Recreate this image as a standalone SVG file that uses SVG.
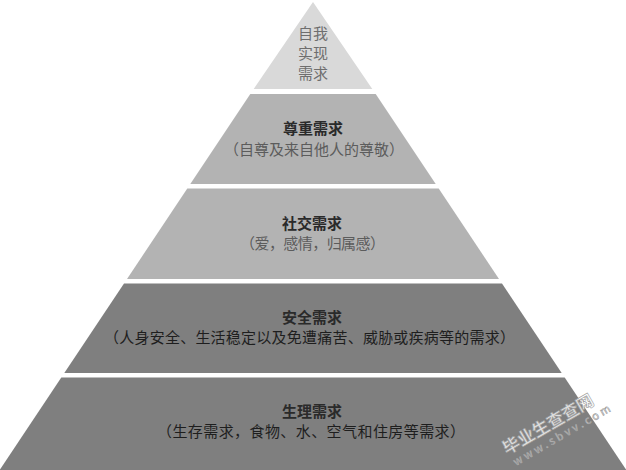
<svg xmlns="http://www.w3.org/2000/svg" width="626" height="470" viewBox="0 0 626 470">
<style>
  .t{font-family:"Noto Sans CJK SC","Liberation Sans",sans-serif;text-anchor:middle}
  .top{font-size:15px;fill:#6e6e6e}
  .title{font-size:15px;font-weight:bold;fill:#2a2a2a}
  .subL{font-size:15px;fill:#5c5c5c}
  .subD{font-size:15px;fill:#1e1e1e}
  .wm{font-family:"Noto Sans CJK SC","Liberation Serif",serif;fill:#ffffff;fill-opacity:0.75;stroke:#9a9a9a;stroke-width:0.6}
</style>
<rect width="626" height="470" fill="#ffffff"/>
<g id="self-actualization">
  <polygon points="313,2 372.3,89 253.7,89" fill="#d9d9d9"/>
  <text class="t top" x="313" y="38.5">自我</text>
  <text class="t top" x="313" y="58.5">实现</text>
  <text class="t top" x="313" y="78.5">需求</text>
</g>
<g id="esteem">
  <polygon points="250.3,94 375.7,94 435.7,184 190.3,184" fill="#b3b3b3"/>
  <text class="t title" x="313" y="133.5">尊重需求</text>
  <text class="t subL" x="314" y="154.5" textLength="180" lengthAdjust="spacing">（自尊及来自他人的尊敬）</text>
</g>
<g id="social">
  <polygon points="187.3,188.5 438.7,188.5 499,279 127,279" fill="#b3b3b3"/>
  <text class="t title" x="312" y="229">社交需求</text>
  <text class="t subL" x="312.5" y="248.5" textLength="145" lengthAdjust="spacing">（爱，感情，归属感）</text>
</g>
<g id="safety">
  <polygon points="124,283.5 502,283.5 561.7,373 64.3,373" fill="#7f7f7f"/>
  <text class="t title" x="312" y="323">安全需求</text>
  <text class="t subD" x="309.5" y="342.5" textLength="411" lengthAdjust="spacing">（人身安全、生活稳定以及免遭痛苦、威胁或疾病等的需求）</text>
</g>
<g id="physiological">
  <polygon points="61.3,377.5 564.7,377.5 626.3,470 -0.3,470" fill="#7f7f7f"/>
  <text class="t title" x="312" y="417">生理需求</text>
  <text class="t subD" x="311" y="437" textLength="308" lengthAdjust="spacing">（生存需求，食物、水、空气和住房等需求）</text>
</g>
<g id="connectors"></g>
<g id="watermark">
  <text class="wm" x="507" y="455" font-size="17" font-weight="bold" transform="rotate(-30 507 455)">毕业生查查网</text>
  <text class="wm" x="516" y="466" font-size="11" letter-spacing="3" transform="rotate(-30 516 466)">www.sbvv.com</text>
</g>
</svg>
